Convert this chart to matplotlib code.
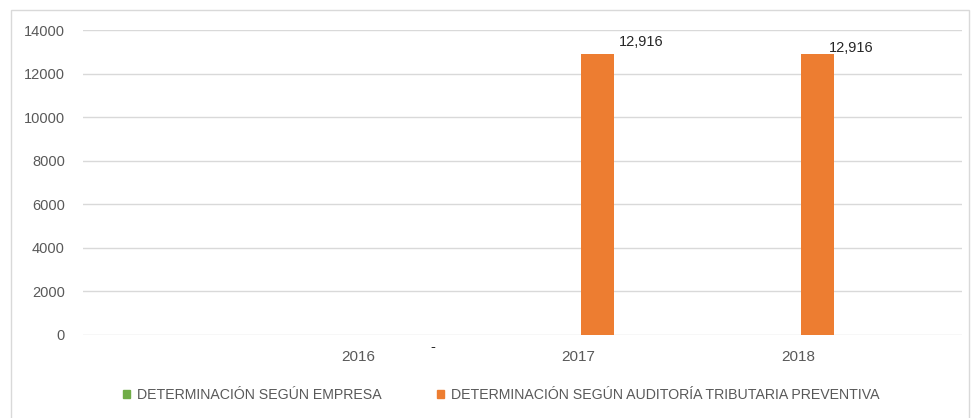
import matplotlib
matplotlib.use("Agg")
import matplotlib.pyplot as plt
from matplotlib.patches import Rectangle, Patch

years = ["2016", "2017", "2018"]
empresa = [0, 0, 0]
auditoria = [0, 12916, 12916]
value_labels = ["-", "12,916", "12,916"]
series_names = ["DETERMINACIÓN SEGÚN EMPRESA",
                "DETERMINACIÓN SEGÚN AUDITORÍA TRIBUTARIA PREVENTIVA"]
yticks = [0, 2000, 4000, 6000, 8000, 10000, 12000, 14000]

W, H = 971, 418
fig = plt.figure(figsize=(W / 100, H / 100), dpi=100)
fig.patch.set_facecolor("white")
plt.rcParams['font.family'] = ['Liberation Sans', 'DejaVu Sans']

# chart border
fig.add_artist(Rectangle((11 / W, -0.01), (969 - 11) / W, 1 - 10 / H + 0.01,
                         transform=fig.transFigure, fill=False,
                         edgecolor="#D9D9D9", linewidth=1))

ax = fig.add_axes([83 / W, 1 - 335 / H, (962 - 83) / W, (335 - 30) / H])
pos = [1, 2, 3]
bw = 0.15
green = "#70AD47"
orange = "#ED7D31"
ax.bar([p - 0.08 for p in pos], empresa, width=bw, color=green, zorder=3)
ax.bar([p + 0.09 for p in pos], auditoria, width=bw, color=orange, zorder=3)

ax.set_xlim(-0.25, 3.745)
ax.set_ylim(0, 14000)
ax.set_yticks(yticks)
ax.set_yticklabels([str(t) for t in yticks])
ax.set_xticks(pos)
ax.set_xticklabels(years)
ax.tick_params(axis="both", length=0, colors="#595959", labelsize=10.5)
ax.tick_params(axis="y", pad=13)
ax.tick_params(axis="x", labelsize=11, pad=11)
ax.grid(axis="y", color="#D9D9D9", linewidth=1, zorder=0)
for s in ax.spines.values():
    s.set_visible(False)

# data labels
ax.text(pos[0] + 0.34, -230, value_labels[0], ha="center", va="top",
        fontsize=10.5, color="#262626")
ax.text(pos[1] + 0.185, 13266, value_labels[1], ha="left", va="baseline",
        fontsize=10.5, color="#262626")
ax.text(pos[2] + 0.14, 12990, value_labels[2], ha="left", va="baseline",
        fontsize=10.5, color="#262626")

# legend
handles = [Patch(color=green), Patch(color=orange)]
fig.legend(handles, series_names, loc="center", bbox_to_anchor=(501 / W, 1 - 395 / H),
           ncol=2, frameon=False, fontsize=10.2, handlelength=0.5, handleheight=0.5,
           handletextpad=0.5, columnspacing=3.9, labelcolor="#595959")

fig.savefig("out.png", dpi=100, facecolor="white")
